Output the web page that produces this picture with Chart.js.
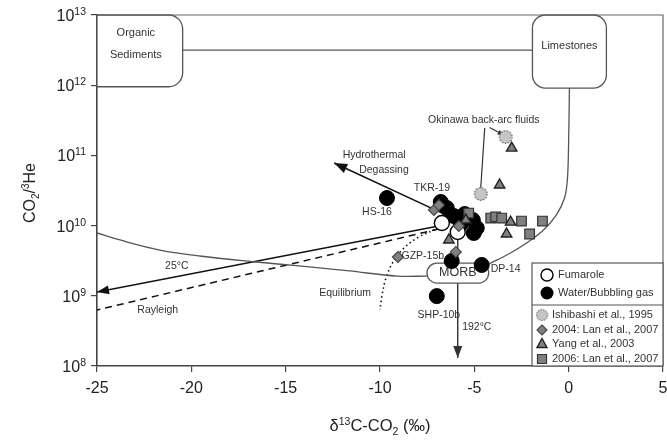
<!DOCTYPE html>
<html><head><meta charset="utf-8">
<script src="https://cdn.jsdelivr.net/npm/chart.js@4.4.0/dist/chart.umd.min.js"></script>
<style>html,body{margin:0;padding:0;background:#fff;}canvas{display:block;}</style>
</head><body>
<canvas id="c" width="667" height="441"></canvas>
<script>
// ---- tick labels ----
const xTicks = [-25, -20, -15, -10, -5, 0, 5];
const xTickLabels = ['-25', '-20', '-15', '-10', '-5', '0', '5'];
const yTickValues = [1e8, 1e9, 1e10, 1e11, 1e12, 1e13];
const yTickExps = ['8', '9', '10', '11', '12', '13'];

// ---- data series (δ13C, CO2/3He) ----
const fumaroleX = [-6.72, -5.88];
const fumaroleY = [1.09e10, 8.1e9];
const waterX = [-9.63, -6.78, -6.46, -6.09, -5.51, -5.72, -5.08, -4.87, -5.03, -6.20, -4.61, -6.99];
const waterY = [2.47e10, 2.17e10, 1.78e10, 1.37e10, 1.46e10, 1.05e10, 1.2e10, 9.25e9, 7.85e9, 3.13e9, 2.75e9, 9.9e8];
const ishibashiX = [-4.66, -3.34];
const ishibashiY = [2.82e10, 1.83e11];
const lan2004X = [-7.14, -6.88, -5.82, -5.98, -9.05];
const lan2004Y = [1.67e10, 1.96e10, 9.87e9, 4.21e9, 3.57e9];
const yangX = [-3.02, -3.66, -5.45, -6.35, -3.08, -3.29];
const yangY = [1.27e11, 3.79e10, 1.2e10, 6.24e9, 1.12e10, 7.59e9];
const lan2006X = [-5.30, -4.13, -3.87, -3.55, -2.5, -1.39, -2.07];
const lan2006Y = [1.51e10, 1.28e10, 1.33e10, 1.28e10, 1.16e10, 1.16e10, 7.59e9];

// ---- model lines ----
const orgMixX = [-25, -23.78, -21.67, -19.56, -16.55, -14.28, -11.63, -9.1, -7.51];
const orgMixY = [7.85e9, 6.24e9, 4.49e9, 3.69e9, 3.03e9, 2.66e9, 2.26e9, 1.91e9, 1.91e9];
const limeMixX = [0.04, -0.01, -0.07, -0.22, -0.65, -1.33, -2.23, -3.18, -4.24];
const limeMixY = [9.1e11, 1.19e11, 4.47e10, 2.47e10, 1.42e10, 8.65e9, 5.65e9, 3.94e9, 2.84e9];
const linkX = [-20.46, -1.92];
const linkY = [3.16e12, 3.16e12];
const t25X = [-6.62, -25];
const t25Y = [1.02e10, 1.13e9];
const rayX = [-6.88, -25];
const rayY = [8.96e9, 6.28e8];
const eqX = [-6.88, -7.94, -8.73, -9.31, -9.68, -9.89, -10.0];
const eqY = [9.25e9, 6.88e9, 4.8e9, 3.03e9, 1.8e9, 1.03e9, 6.28e8];
const hydroX = [-6.51, -12.43];
const hydroY = [1.42e10, 7.8e10];
const t192X = [-5.88, -5.88];
const t192Y = [6.24e9, 1.3e8];
const okiLeadX = [-4.45, -4.66];
const okiLeadY = [2.45e11, 3.44e10];
const okiArrX = [-4.19, -3.45];
const okiArrY = [2.5e11, 1.95e11];

const FONT = '"Liberation Sans", Arial, sans-serif';
const TXT = '#333';

function mk(xs, ys) { return xs.map((x, i) => ({ x: x, y: ys[i] })); }

// dotted grey circle marker
const ishiImg = document.createElement('canvas');
ishiImg.width = 16; ishiImg.height = 16;
(function () {
  const c = ishiImg.getContext('2d');
  c.beginPath(); c.arc(8, 8, 6.3, 0, 2 * Math.PI);
  c.fillStyle = '#c6c6c6'; c.fill();
  c.setLineDash([1.6, 1.4]); c.strokeStyle = '#6a6a6a'; c.lineWidth = 1.3; c.stroke();
})();

function lineDS(xs, ys, opts) {
  return Object.assign({
    kind: 'line', data: mk(xs, ys), showLine: true, pointRadius: 0, pointHoverRadius: 0,
    borderColor: '#555', borderWidth: 1.3, tension: 0, fill: false, order: 20
  }, opts || {});
}
function ptDS(xs, ys, opts) {
  return Object.assign({ kind: 'point', data: mk(xs, ys), showLine: false }, opts);
}

const datasets = [
  lineDS(orgMixX, orgMixY, { tension: 0.35 }),
  lineDS(limeMixX, limeMixY, { tension: 0.35 }),
  lineDS(linkX, linkY, {}),
  lineDS(t25X, t25Y, { borderColor: '#111', borderWidth: 1.5, arrow: [12, 9] }),
  lineDS(rayX, rayY, { borderColor: '#111', borderWidth: 1.5, borderDash: [7, 5] }),
  lineDS(eqX, eqY, { borderColor: '#111', borderWidth: 1.6, borderDash: [1.5, 3], tension: 0.35 }),
  lineDS(hydroX, hydroY, { borderColor: '#111', borderWidth: 1.5, arrow: [13, 10] }),
  lineDS(t192X, t192Y, { borderColor: '#333', borderWidth: 1.4, arrow: [12, 9] }),
  lineDS(okiLeadX, okiLeadY, { borderColor: '#333', borderWidth: 1.2 }),
  lineDS(okiArrX, okiArrY, { borderColor: '#333', borderWidth: 1.2, arrow: [6, 5] }),
  ptDS(waterX, waterY, { label: 'Water/Bubbling gas', pointStyle: 'circle', pointRadius: 7.5, backgroundColor: '#000', borderColor: '#000', borderWidth: 1, order: 6 }),
  ptDS(fumaroleX, fumaroleY, { label: 'Fumarole', pointStyle: 'circle', pointRadius: 7.5, backgroundColor: '#fff', borderColor: '#000', borderWidth: 1.4, order: 5 }),
  ptDS(lan2006X, lan2006Y, { label: '2006: Lan et al., 2007', pointStyle: 'rect', pointRadius: 6.8, backgroundColor: '#808080', borderColor: '#333', borderWidth: 1.2, order: 4 }),
  ptDS(yangX, yangY, { label: 'Yang et al., 2003', pointStyle: 'triangle', pointRadius: 6, backgroundColor: '#808080', borderColor: '#222', borderWidth: 1.4, order: 3 }),
  ptDS(lan2004X, lan2004Y, { label: '2004: Lan et al., 2007', pointStyle: 'rectRot', pointRadius: 5.5, backgroundColor: '#808080', borderColor: '#444', borderWidth: 1.1, order: 2 }),
  ptDS(ishibashiX, ishibashiY, { label: 'Ishibashi et al., 1995', pointStyle: ishiImg, pointRadius: 7, order: 1 })
];

// annotation boxes (data coordinates)
const boxes = [
  { x0: -25, x1: -20.46, y0: 9.5e11, y1: 1e13, r: [0, 14, 14, 0], lines: [['Organic', -22.94, 5.5e12], ['Sediments', -22.94, 2.7e12]], size: 11 },
  { x0: -1.92, x1: 2.0, y0: 9.1e11, y1: 1e13, r: [13, 13, 13, 13], lines: [['Limestones', 0.04, 3.6e12]], size: 11 },
  { x0: -7.51, x1: -4.24, y0: 1.52e9, y1: 2.93e9, r: [10, 10, 10, 10], lines: [['MORB', -5.875, 2.12e9]], size: 12.5 }
];
const labels = [
  ['Hydrothermal', -10.31, 1.01e11], ['Degassing', -9.79, 6.2e10],
  ['TKR-19', -7.25, 3.44e10], ['HS-16', -10.16, 1.56e10],
  ['GZP-15b', -7.73, 3.69e9], ['DP-14', -3.34, 2.41e9],
  ['SHP-10b', -6.88, 5.32e8], ['Equilibrium', -11.85, 1.1e9],
  ['192°C', -4.87, 3.6e8], ['25°C', -20.77, 2.66e9], ['Rayleigh', -21.78, 6.28e8],
  ['Okinawa back-arc fluids', -4.5, 3.19e11]
];

function rrect(ctx, x0, y0, x1, y1, r) {
  ctx.beginPath();
  ctx.moveTo(x0 + r[0], y0);
  ctx.lineTo(x1 - r[1], y0); ctx.arcTo(x1, y0, x1, y0 + r[1], r[1]);
  ctx.lineTo(x1, y1 - r[2]); ctx.arcTo(x1, y1, x1 - r[2], y1, r[2]);
  ctx.lineTo(x0 + r[3], y1); ctx.arcTo(x0, y1, x0, y1 - r[3], r[3]);
  ctx.lineTo(x0, y0 + r[0]); ctx.arcTo(x0, y0, x0 + r[0], y0, r[0]);
  ctx.closePath();
}

function rich(ctx, parts, x, y, align) {
  let w = 0;
  parts.forEach(p => { ctx.font = p[1] + 'px ' + FONT; w += ctx.measureText(p[0]).width; });
  let cx = align === 'right' ? x - w : (align === 'center' ? x - w / 2 : x);
  ctx.textAlign = 'left'; ctx.textBaseline = 'alphabetic';
  parts.forEach(p => {
    ctx.font = p[1] + 'px ' + FONT;
    ctx.fillText(p[0], cx, y + (p[2] || 0));
    cx += ctx.measureText(p[0]).width;
  });
}

function drawUnder(chart) {
  const ctx = chart.ctx, xs = chart.scales.x, ys = chart.scales.y;
  ctx.save();
  chart.data.datasets.forEach(ds => {
    if (!ds.arrow) return;
    const n = ds.data.length;
    const tx = xs.getPixelForValue(ds.data[n - 1].x), ty = ys.getPixelForValue(ds.data[n - 1].y);
    const fx = xs.getPixelForValue(ds.data[n - 2].x), fy = ys.getPixelForValue(ds.data[n - 2].y);
    const a = Math.atan2(ty - fy, tx - fx), L = ds.arrow[0], W = ds.arrow[1] / 2;
    const bx = tx - L * Math.cos(a), by = ty - L * Math.sin(a);
    ctx.beginPath();
    ctx.moveTo(tx, ty);
    ctx.lineTo(bx - W * Math.sin(a), by + W * Math.cos(a));
    ctx.lineTo(bx + W * Math.sin(a), by - W * Math.cos(a));
    ctx.closePath();
    ctx.fillStyle = ds.borderColor; ctx.fill();
  });
  boxes.forEach(b => {
    const x0 = xs.getPixelForValue(b.x0), x1 = xs.getPixelForValue(b.x1);
    const y0 = ys.getPixelForValue(b.y1), y1 = ys.getPixelForValue(b.y0);
    rrect(ctx, x0, y0, x1, y1, b.r);
    ctx.fillStyle = '#fff'; ctx.fill();
    ctx.strokeStyle = '#555'; ctx.lineWidth = 1.3; ctx.stroke();
    ctx.fillStyle = TXT; ctx.font = b.size + 'px ' + FONT;
    ctx.textAlign = 'center'; ctx.textBaseline = 'middle';
    b.lines.forEach(l => ctx.fillText(l[0], xs.getPixelForValue(l[1]), ys.getPixelForValue(l[2])));
  });
  ctx.restore();
}

function drawOver(chart) {
  const ctx = chart.ctx, xs = chart.scales.x, ys = chart.scales.y, ca = chart.chartArea;
  ctx.save();
  ctx.strokeStyle = '#666'; ctx.lineWidth = 1.2;
  ctx.beginPath(); ctx.moveTo(ca.left, ca.top); ctx.lineTo(ca.right, ca.top); ctx.lineTo(ca.right, ca.bottom); ctx.stroke();
  ctx.fillStyle = TXT; ctx.font = '10.5px ' + FONT; ctx.textAlign = 'center'; ctx.textBaseline = 'middle';
  labels.forEach(l => ctx.fillText(l[0], xs.getPixelForValue(l[1]), ys.getPixelForValue(l[2])));
  ctx.fillStyle = '#222'; ctx.font = '16px ' + FONT; ctx.textAlign = 'center'; ctx.textBaseline = 'middle';
  xTicks.forEach((v, i) => ctx.fillText(xTickLabels[i], xs.getPixelForValue(v), ca.bottom + 23));
  yTickValues.forEach((v, i) => {
    const y = ys.getPixelForValue(v);
    rich(ctx, [['10', 16, 0], [yTickExps[i], 10.5, -6]], ca.left - 11, y + 6, 'right');
  });
  ctx.fillStyle = '#222';
  rich(ctx, [['δ', 16.5, 0], ['13', 10.5, -6], ['C-CO', 16.5, 0], ['2', 10.5, 4], [' (‰)', 16.5, 0]], (ca.left + ca.right) / 2, 431, 'center');
  ctx.save();
  ctx.translate(35, 193); ctx.rotate(-Math.PI / 2);
  rich(ctx, [['CO', 16, 0], ['2', 10, 4], ['/', 16, 0], ['3', 10, -6], ['He', 16, 0]], 0, 0, 'center');
  ctx.restore();
  // legend
  const L = ca.right - 131, T = ca.bottom - 103, M = ca.bottom - 61;
  ctx.fillStyle = '#fff'; ctx.fillRect(L, T, ca.right - L, ca.bottom - T);
  ctx.strokeStyle = '#555'; ctx.lineWidth = 1.2;
  ctx.strokeRect(L, T, ca.right - L, ca.bottom - T);
  ctx.beginPath(); ctx.moveTo(L, M); ctx.lineTo(ca.right, M); ctx.stroke();
  const ix1 = L + 15, ix2 = L + 10;
  ctx.beginPath(); ctx.arc(ix1, ca.bottom - 91, 6, 0, 2 * Math.PI); ctx.fillStyle = '#fff'; ctx.fill();
  ctx.strokeStyle = '#000'; ctx.lineWidth = 1.4; ctx.stroke();
  ctx.beginPath(); ctx.arc(ix1, ca.bottom - 73, 6.5, 0, 2 * Math.PI); ctx.fillStyle = '#000'; ctx.fill();
  ctx.drawImage(ishiImg, ix2 - 7, ca.bottom - 51 - 7, 14, 14);
  ctx.beginPath(); const dy = ca.bottom - 36;
  ctx.moveTo(ix2, dy - 5); ctx.lineTo(ix2 + 5, dy); ctx.lineTo(ix2, dy + 5); ctx.lineTo(ix2 - 5, dy); ctx.closePath();
  ctx.fillStyle = '#808080'; ctx.fill(); ctx.strokeStyle = '#444'; ctx.lineWidth = 1.1; ctx.stroke();
  ctx.beginPath(); const ty = ca.bottom - 22;
  ctx.moveTo(ix2, ty - 5.5); ctx.lineTo(ix2 + 5, ty + 3.5); ctx.lineTo(ix2 - 5, ty + 3.5); ctx.closePath();
  ctx.fillStyle = '#808080'; ctx.fill(); ctx.strokeStyle = '#222'; ctx.lineWidth = 1.4; ctx.stroke();
  ctx.beginPath(); ctx.rect(ix2 - 4.5, ca.bottom - 7 - 4.5, 9, 9);
  ctx.fillStyle = '#808080'; ctx.fill(); ctx.strokeStyle = '#333'; ctx.lineWidth = 1.2; ctx.stroke();
  ctx.fillStyle = TXT; ctx.font = '11px ' + FONT; ctx.textAlign = 'left'; ctx.textBaseline = 'middle';
  ctx.fillText('Fumarole', L + 26, ca.bottom - 91);
  ctx.fillText('Water/Bubbling gas', L + 26, ca.bottom - 73);
  ctx.fillText('Ishibashi et al., 1995', L + 20, ca.bottom - 51);
  ctx.fillText('2004: Lan et al., 2007', L + 20, ca.bottom - 36);
  ctx.fillText('Yang et al., 2003', L + 20, ca.bottom - 22);
  ctx.fillText('2006: Lan et al., 2007', L + 20, ca.bottom - 7);
  ctx.restore();
}

const annot = {
  id: 'annot',
  beforeDraw(chart) { chart.$boxesDone = false; },
  beforeDatasetDraw(chart, args) {
    const ds = chart.data.datasets[args.index];
    if (ds.kind === 'point' && !chart.$boxesDone) { chart.$boxesDone = true; drawUnder(chart); }
  },
  afterDatasetsDraw(chart) { drawOver(chart); }
};

new Chart(document.getElementById('c'), {
  type: 'scatter',
  data: { datasets: datasets },
  options: {
    responsive: false, animation: false, devicePixelRatio: 1,
    layout: { autoPadding: false, padding: { top: 15, right: 4, left: 0, bottom: 0 } },
    plugins: { legend: { display: false }, tooltip: { enabled: false } },
    scales: {
      x: {
        type: 'linear', min: -25, max: 5,
        afterBuildTicks: s => { s.ticks = xTicks.map(v => ({ value: v })); },
        ticks: { display: false },
        grid: { drawOnChartArea: false, drawTicks: true, tickLength: 6, color: '#444', lineWidth: 1.2 },
        border: { color: '#444', width: 1.6 },
        afterFit: s => { s.height = 75; }
      },
      y: {
        type: 'logarithmic', min: 1e8, max: 1e13,
        afterBuildTicks: s => { s.ticks = yTickValues.map(v => ({ value: v })); },
        ticks: { display: false },
        grid: { drawOnChartArea: false, drawTicks: true, tickLength: 6, color: '#444', lineWidth: 1.2 },
        border: { color: '#444', width: 1.6 },
        afterFit: s => { s.width = 97; }
      }
    }
  },
  plugins: [annot]
});
</script>
</body></html>
